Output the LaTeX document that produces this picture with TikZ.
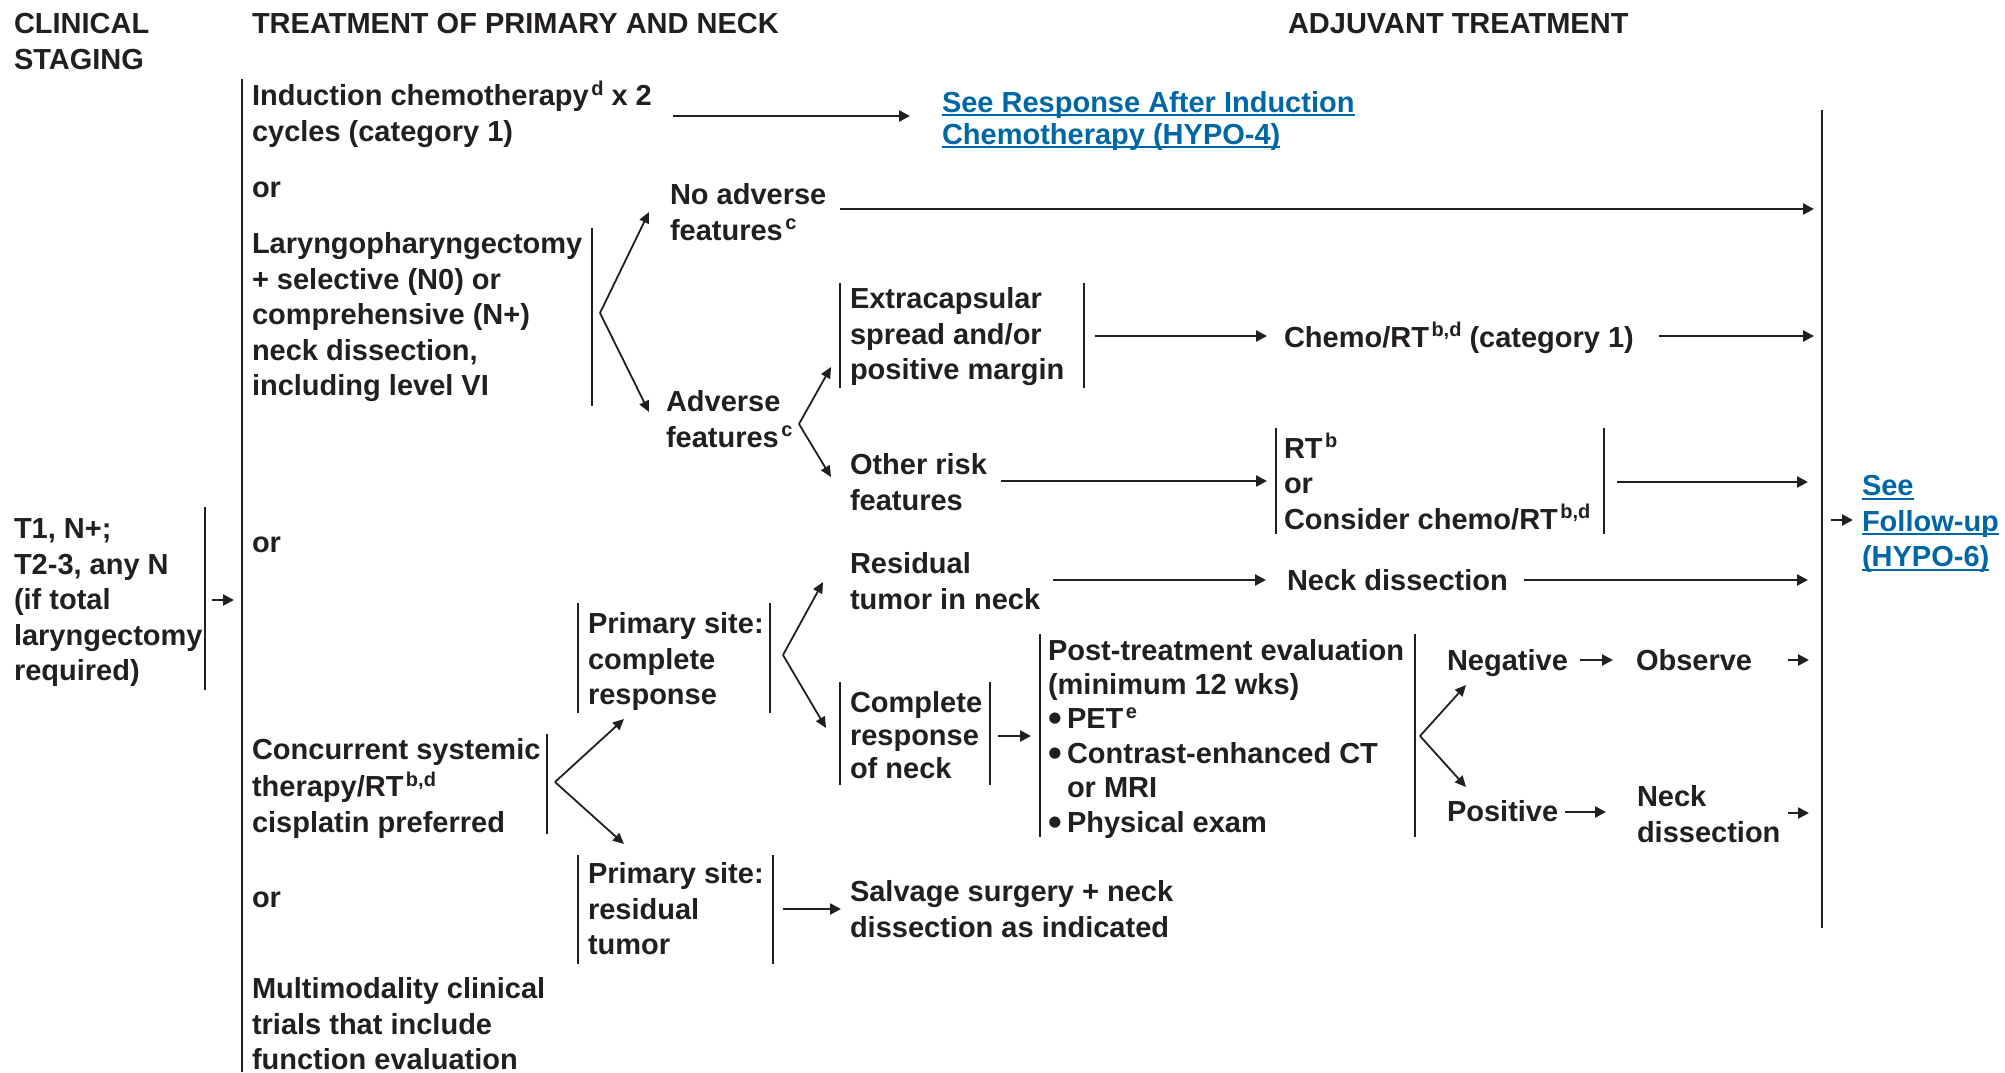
\documentclass[tikz,border=0pt]{standalone}
\usepackage{fontspec}
\usepackage{graphicx}
\setmainfont{Liberation Sans}
\usetikzlibrary{arrows.meta}

\definecolor{ink}{HTML}{231F20}
\definecolor{linkblue}{RGB}{0,103,166}

% body text: bold sans, 29pt on 35.5pt
\newcommand\mainsz{\fontsize{29}{35.5}\selectfont\bfseries}
% footnote-style superscript letters
\newcommand\sups[1]{\kern2.5pt\raisebox{10.5pt}{\fontsize{20}{20}\selectfont #1}}
% underlined link text
\newsavebox\lnkbox
\newcommand\lnk[1]{\sbox\lnkbox{#1}\rlap{\rule[-4pt]{\wd\lnkbox}{2pt}}\usebox\lnkbox}
% bullet item marker
\newcommand\bul{\makebox[19pt][l]{\raisebox{-3pt}{\scalebox{1.35}{\textbullet}}}}

\tikzset{
  txt/.style={inner sep=0pt, outer sep=0pt, anchor=north west, align=left,
              font=\mainsz, text=ink, yshift=-1pt},
  lnkt/.style={txt, text=linkblue},
  brk/.style={draw=ink, line width=1.8pt},
  arr/.style={draw=ink, line width=2.4pt, -{Triangle[length=11pt,width=11pt]}},
  forkarr/.style={draw=ink, line width=1.8pt, -{Triangle[length=11pt,width=10pt]}},
}

\begin{document}
\begin{tikzpicture}[x=1pt,y=-1pt]
\useasboundingbox (0,0) rectangle (2005,1072);

% ---------- column headings ----------
\node[txt] (hdrStage) at (14,8)   {\strut CLINICAL\\STAGING};
\node[txt] (hdrPrim)  at (252,8)  {\strut TREATMENT OF PRIMARY AND NECK};
\node[txt] (hdrAdj)   at (1288,8) {\strut ADJUVANT TREATMENT};

% ---------- staging ----------
\node[txt] (stage) at (14,513) {\strut T1, N+;\\T2-3, any N\\(if total\\laryngectomy\\required)};

% ---------- primary and neck options ----------
\node[txt] (induct) at (252,80) {\strut Induction chemotherapy\sups{d} x 2\\cycles (category 1)};
\node[txt] (or1) at (252,172) {\strut or};
\node[txt] (laryn) at (252,228) {\strut Laryngopharyngectomy\\+ selective (N0) or\\comprehensive (N+)\\neck dissection,\\including level VI};
\node[txt] (or2) at (252,527) {\strut or};
\node[txt] (concur) at (252,734) {\strut Concurrent systemic\\therapy/RT\sups{b,d}\\cisplatin preferred};
\node[txt] (or3) at (252,882) {\strut or};
\node[txt] (multi) at (252,973) {\strut Multimodality clinical\\trials that include\\function evaluation};

\node[lnkt, font=\fontsize{29}{32}\selectfont\bfseries] (seeResp) at (942,88.6)
  {\strut\lnk{See Response After Induction}\\\lnk{Chemotherapy (HYPO-4)}};

% ---------- surgery branch ----------
\node[txt] (noAdv) at (670,179) {\strut No adverse\\features\sups{c}};
\node[txt] (adv)   at (666,386) {\strut Adverse\\features\sups{c}};
\node[txt] (extra) at (850,283) {\strut Extracapsular\\spread and/or\\positive margin};
\node[txt] (chemo) at (1284,321) {\strut Chemo/RT\sups{b,d} (category 1)};
\node[txt] (other) at (850,449) {\strut Other risk\\features};
\node[txt] (rtOpt) at (1284,432) {\strut RT\sups{b}\\or\\Consider chemo/RT\sups{b,d}};

% ---------- chemoradiation branch ----------
\node[txt] (psCR)   at (588,608) {\strut Primary site:\\complete\\response};
\node[txt] (psRes)  at (588,858) {\strut Primary site:\\residual\\tumor};
\node[txt] (resid)  at (850,548) {\strut Residual\\tumor in neck};
\node[txt] (neckA)  at (1287,565) {\strut Neck dissection};
\node[txt, font=\fontsize{29}{33}\selectfont\bfseries] (crNeck) at (850,687.9) {\strut Complete\\response\\of neck};
\node[txt, font=\fontsize{29}{34.4}\selectfont\bfseries] (post) at (1048,635)
  {\strut Post-treatment evaluation\\(minimum 12 wks)\\\bul PET\sups{e}\\\bul Contrast-enhanced CT\\\hspace*{19pt}or MRI\\\bul Physical exam};
\node[txt] (neg)     at (1447,645) {\strut Negative};
\node[txt] (observe) at (1636,645) {\strut Observe};
\node[txt] (pos)     at (1447,796) {\strut Positive};
\node[txt] (neckB)   at (1637,781) {\strut Neck\\dissection};
\node[txt] (salv)    at (850,876)  {\strut Salvage surgery + neck\\dissection as indicated};

\node[lnkt] (follow) at (1862,470) {\strut\lnk{See}\\\lnk{Follow-up}\\\lnk{(HYPO-6)}};

% ---------- bracket lines ----------
\draw[brk] (242,79) -- (242,1072);
\draw[brk] (205,507) -- (205,690);
\draw[brk] (592,228) -- (592,406);
\draw[brk] (840,283) -- (840,388);  \draw[brk] (1084,283) -- (1084,388);
\draw[brk] (1276,428) -- (1276,534); \draw[brk] (1604,428) -- (1604,534);
\draw[brk] (578,603) -- (578,713);  \draw[brk] (770,603) -- (770,713);
\draw[brk] (840,682) -- (840,785);  \draw[brk] (990,682) -- (990,785);
\draw[brk] (1040,634) -- (1040,837); \draw[brk] (1415,634) -- (1415,837);
\draw[brk] (547,734) -- (547,834);
\draw[brk] (578,855) -- (578,964);  \draw[brk] (773,855) -- (773,964);
\draw[brk] (1822,110) -- (1822,928);

% ---------- connector end points ----------
\coordinate (stageOut) at (212,600);  \coordinate (mainIn) at (234,600);
\coordinate (inductOut) at (673,116); \coordinate (respIn) at (910,116);
\coordinate (larynFork) at (600,313);
\coordinate (noAdvIn) at (649,212);   \coordinate (advIn) at (649,412);
\coordinate (noAdvOut) at (840,209);  \coordinate (noAdvEnd) at (1814,209);
\coordinate (advFork) at (799,424);
\coordinate (extraIn) at (831,367);   \coordinate (otherIn) at (831,477);
\coordinate (extraOut) at (1095,336); \coordinate (chemoIn) at (1267,336);
\coordinate (chemoOut) at (1659,336); \coordinate (chemoEnd) at (1814,336);
\coordinate (otherOut) at (1001,481); \coordinate (rtIn) at (1267,481);
\coordinate (rtOut) at (1617,482);    \coordinate (rtEnd) at (1808,482);
\coordinate (concurFork) at (555,782);
\coordinate (psCRIn) at (624,719);    \coordinate (psResIn) at (624,844);
\coordinate (psCRFork) at (783,655);
\coordinate (residIn) at (823,582);   \coordinate (crNeckIn) at (826,728);
\coordinate (residOut) at (1053,580); \coordinate (neckAIn) at (1266,580);
\coordinate (neckAOut) at (1524,580); \coordinate (neckAEnd) at (1808,580);
\coordinate (crNeckOut) at (998,736); \coordinate (postIn) at (1031,736);
\coordinate (postFork) at (1420,736);
\coordinate (negIn) at (1466,685);    \coordinate (posIn) at (1466,787);
\coordinate (negOut) at (1580,660);   \coordinate (observeIn) at (1613,660);
\coordinate (observeOut) at (1788,660); \coordinate (observeEnd) at (1809,660);
\coordinate (posOut) at (1565,812);   \coordinate (neckBIn) at (1606,812);
\coordinate (neckBOut) at (1788,813); \coordinate (neckBEnd) at (1809,813);
\coordinate (psResOut) at (783,909);  \coordinate (salvIn) at (841,909);
\coordinate (adjOut) at (1831,520);   \coordinate (followIn) at (1853,520);

% ---------- arrows ----------
\draw[arr] (stageOut) -- (mainIn);
\draw[arr] (inductOut) -- (respIn);
\draw[forkarr] (larynFork) -- (noAdvIn);
\draw[forkarr] (larynFork) -- (advIn);
\draw[arr] (noAdvOut) -- (noAdvEnd);
\draw[forkarr] (advFork) -- (extraIn);
\draw[forkarr] (advFork) -- (otherIn);
\draw[arr] (extraOut) -- (chemoIn);
\draw[arr] (chemoOut) -- (chemoEnd);
\draw[arr] (otherOut) -- (rtIn);
\draw[arr] (rtOut) -- (rtEnd);
\draw[forkarr] (concurFork) -- (psCRIn);
\draw[forkarr] (concurFork) -- (psResIn);
\draw[forkarr] (psCRFork) -- (residIn);
\draw[forkarr] (psCRFork) -- (crNeckIn);
\draw[arr] (residOut) -- (neckAIn);
\draw[arr] (neckAOut) -- (neckAEnd);
\draw[arr] (crNeckOut) -- (postIn);
\draw[forkarr] (postFork) -- (negIn);
\draw[forkarr] (postFork) -- (posIn);
\draw[arr] (negOut) -- (observeIn);
\draw[arr] (observeOut) -- (observeEnd);
\draw[arr] (posOut) -- (neckBIn);
\draw[arr] (neckBOut) -- (neckBEnd);
\draw[arr] (psResOut) -- (salvIn);
\draw[arr] (adjOut) -- (followIn);
\end{tikzpicture}
\end{document}
